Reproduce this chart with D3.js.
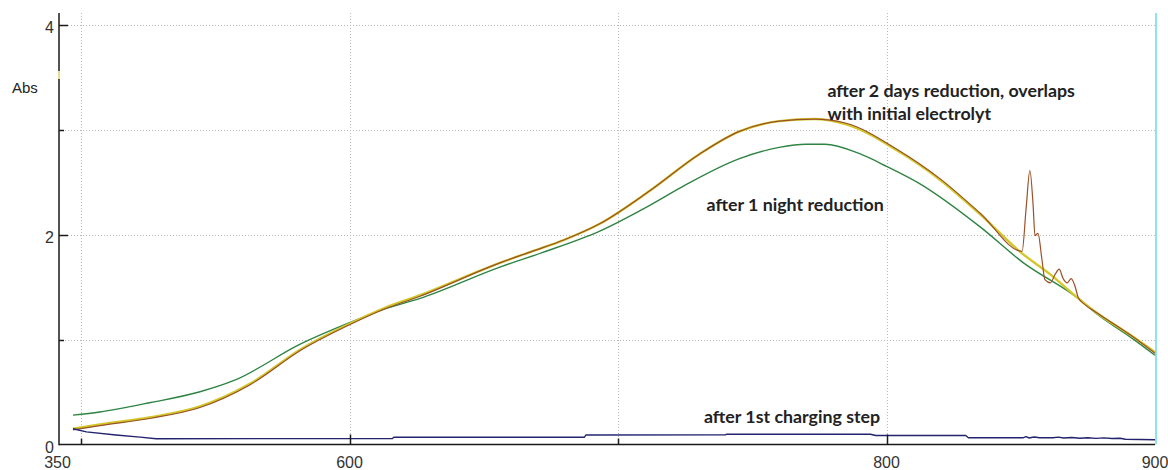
<!DOCTYPE html>
<html>
<head>
<meta charset="utf-8">
<script src="https://cdn.jsdelivr.net/npm/d3@7"></script>
<style>
  html, body { margin: 0; padding: 0; background: #fff; }
  svg { display: block; }
</style>
</head>
<body>
<svg id="chart" width="1168" height="470"></svg>
<script>
// Absorbance spectra of the electrolyte, wavelength in nm
const initialElectrolyte = [
  [497,0.15],[507,0.19],[526,0.26],[544,0.36],[563,0.58],[582,0.91],[600,1.15],
  [613,1.30],[626,1.42],[656,1.73],[668,1.84],[680,1.95],[693,2.10],[712,2.42],
  [730,2.76],[745,2.98],[760,3.08],[773,3.10],[785,3.05],[804,2.80],[820,2.52],
  [835,2.19],[850,1.83],[861,1.62],[872,1.38],[878,1.26],[891,1.04],[900,0.88]
];
const afterTwoDays = [
  [497,0.14],[507,0.18],[526,0.25],[544,0.35],[563,0.57],[582,0.90],[600,1.14],
  [613,1.29],[626,1.41],[656,1.73],[668,1.84],[680,1.95],[693,2.10],[712,2.42],
  [730,2.76],[745,2.98],[760,3.08],[773,3.10],[785,3.06],[804,2.81],[820,2.53],
  [835,2.20],[850.5,1.84],[852,2.25],[853.4,2.61],[854.6,2.28],[855.3,1.99],
  [856.4,2.01],[857.9,1.76],[859,1.57],[861,1.54],[862.8,1.62],[864.3,1.67],
  [865.8,1.58],[867.3,1.54],[868.8,1.58],[870.3,1.50],[871.4,1.40],[874,1.33],
  [878,1.26],[891,1.04],[900,0.87]
];
const afterOneNight = [
  [497,0.28],[507,0.31],[526,0.40],[544,0.50],[557,0.61],[582,0.96],[600,1.16],
  [613,1.29],[626,1.39],[656,1.69],[672,1.83],[693,2.03],[712,2.28],[725,2.47],
  [745,2.72],[760,2.83],[770,2.86],[777,2.86],[790,2.77],[800,2.65],[812,2.49],
  [835,2.07],[850.5,1.74],[872,1.38],[878,1.25],[891,1.02],[900,0.85]
];
const afterFirstCharge = [
  [497,0.15],[502,0.12],[513,0.09],[522,0.07],[528,0.055],[616,0.057],[616.5,0.069],
  [687.5,0.069],[688,0.09],[740,0.092],[740.5,0.098],[794,0.098],[796,0.086],
  [829.5,0.086],[830.5,0.065],[851,0.065],[852,0.075],[853,0.062],[855,0.072],
  [857,0.064],[862,0.064],[864,0.07],[866,0.062],[869,0.066],[872,0.06],[875,0.064],
  [878,0.058],[881,0.063],[884,0.057],[887,0.06],[889,0.05],[900,0.045]
];

// Axis ticks and labels
const xTicks = [500, 600, 700, 800];
const xTickLabels = { 600: "600", 800: "800" };
const xStartLabel = "350";
const xEndLabel = "900";
const yTicks = [1, 2, 3, 4];
const yTickLabels = { 0: "0", 2: "2", 4: "4" };
const yAxisTitle = "Abs";
const cursorAbs = 3.52;

// Curve annotations
const annotations = [
  { lines: ["after 2 days reduction, overlaps", "with initial electrolyt"], at: [778, 3.31] },
  { lines: ["after 1 night reduction"], at: [733, 2.22] },
  { lines: ["after 1st charging step"], at: [732, 0.205] }
];

const svg = d3.select("#chart");
const plotLeft = 59, plotRight = 1155, plotTop = 13, plotBottom = 444.5;

const x = d3.scaleLinear().domain([491.8, 900]).range([plotLeft, plotRight]);
const y = d3.scaleLinear().domain([0, 4.11]).range([plotBottom, plotTop]);

// dotted grid
const grid = svg.append("g").attr("stroke", "#b8b8b8").attr("stroke-width", 1)
  .attr("stroke-dasharray", "1,2").attr("shape-rendering", "crispEdges");
grid.selectAll("line.h").data(yTicks).join("line").attr("class", "h")
  .attr("x1", plotLeft).attr("x2", plotRight)
  .attr("y1", d => Math.round(y(d)) + 0.5).attr("y2", d => Math.round(y(d)) + 0.5);
grid.selectAll("line.v").data(xTicks).join("line").attr("class", "v")
  .attr("y1", plotTop).attr("y2", plotBottom)
  .attr("x1", d => Math.round(x(d)) + 0.5).attr("x2", d => Math.round(x(d)) + 0.5);

// cursor line on the right edge
svg.append("line").attr("x1", plotRight + 1).attr("x2", plotRight + 1)
  .attr("y1", plotTop).attr("y2", plotBottom)
  .attr("stroke", "#8fe3ea").attr("stroke-width", 2);

// spectra
const line = d3.line().x(d => x(d[0])).y(d => y(d[1])).curve(d3.curveMonotoneX);
const stepLine = d3.line().x(d => x(d[0])).y(d => y(d[1]));

const series = [
  { data: afterOneNight, color: "#2e8443", width: 1.4, gen: line },
  { data: initialElectrolyte, color: "#d2c82c", width: 2.4, gen: line },
  { data: afterTwoDays, color: "#9a5128", width: 1.2, gen: line },
  { data: afterFirstCharge, color: "#23236e", width: 1.4, gen: stepLine }
];
svg.append("g").selectAll("path").data(series).join("path")
  .attr("d", d => d.gen(d.data))
  .attr("fill", "none")
  .attr("stroke", d => d.color)
  .attr("stroke-width", d => d.width)
  .attr("stroke-linejoin", "round");

// axes
const axis = svg.append("g").attr("stroke", "#1a1a1a").attr("stroke-width", 1.5);
axis.append("line").attr("x1", plotLeft).attr("x2", plotLeft).attr("y1", plotTop).attr("y2", plotBottom + 0.75);
axis.append("line").attr("x1", plotLeft).attr("x2", plotRight).attr("y1", plotBottom).attr("y2", plotBottom);
axis.selectAll("line.yt").data(yTicks).join("line").attr("class", "yt")
  .attr("x1", plotLeft).attr("x2", d => plotLeft + (yTickLabels[d] ? 9 : 5))
  .attr("y1", d => Math.round(y(d)) + 0.5).attr("y2", d => Math.round(y(d)) + 0.5);
axis.selectAll("line.xt").data(xTicks).join("line").attr("class", "xt")
  .attr("x1", d => Math.round(x(d)) + 0.5).attr("x2", d => Math.round(x(d)) + 0.5)
  .attr("y1", plotBottom).attr("y2", d => plotBottom - (xTickLabels[d] ? 10 : 6));

// cursor marker on the y axis
svg.append("line").attr("x1", plotLeft).attr("x2", plotLeft)
  .attr("y1", y(cursorAbs) - 4).attr("y2", y(cursorAbs) + 4)
  .attr("stroke", "#e6df8a").attr("stroke-width", 2);

// tick labels
const tickFont = "'Liberation Sans', Arial, sans-serif";
const labels = svg.append("g").attr("font-family", tickFont).attr("font-size", 16).attr("fill", "#333");
labels.selectAll("text.y").data(Object.keys(yTickLabels).map(Number)).join("text").attr("class", "y")
  .attr("x", plotLeft - 5).attr("y", d => y(d) + 8).attr("text-anchor", "end")
  .text(d => yTickLabels[d]);
labels.selectAll("text.x").data(xTicks.filter(d => xTickLabels[d])).join("text").attr("class", "x")
  .attr("x", d => x(d)).attr("y", 468).attr("text-anchor", "middle")
  .text(d => xTickLabels[d]);
labels.append("text").attr("x", plotLeft - 1.5).attr("y", 468).attr("text-anchor", "middle").text(xStartLabel);
labels.append("text").attr("x", plotRight).attr("y", 468).attr("text-anchor", "middle").text(xEndLabel);
labels.append("text").attr("x", 12).attr("y", 93).attr("font-size", 15).attr("fill", "#222").text(yAxisTitle);

// annotations
const notes = svg.append("g").attr("font-family", "Lato, 'Open Sans', sans-serif")
  .attr("font-weight", 700).attr("font-size", 17.8).attr("fill", "#222");
annotations.forEach(a => {
  const t = notes.append("text").attr("x", x(a.at[0])).attr("y", y(a.at[1]));
  a.lines.forEach((s, i) => t.append("tspan").attr("x", x(a.at[0])).attr("dy", i ? 23.5 : 0).text(s));
});
</script>
</body>
</html>
